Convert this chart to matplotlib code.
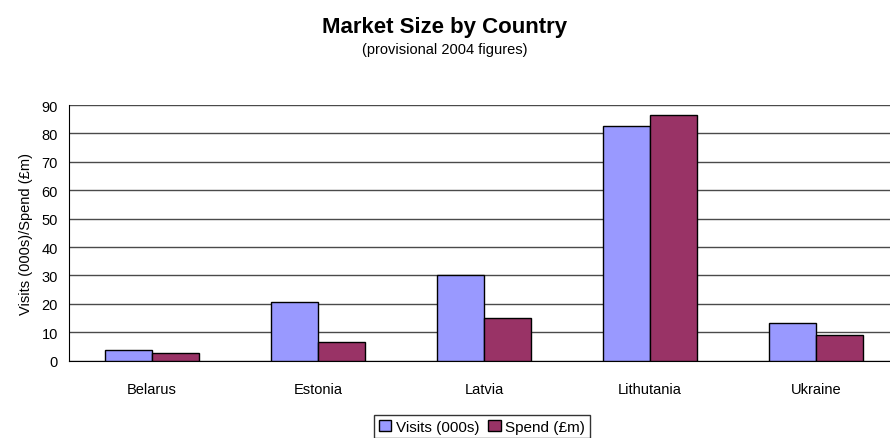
import numpy as np
import matplotlib.pyplot as plt
from matplotlib import font_manager

countries = ['Belarus', 'Estonia', 'Latvia', 'Lithutania', 'Ukraine']
visits = [3.8, 20.8, 30.0, 82.6, 13.1]
spend = [2.7, 6.7, 15.1, 86.5, 9.1]
yticks = [0, 10, 20, 30, 40, 50, 60, 70, 80, 90]

names = {f.name for f in font_manager.fontManager.ttflist}
family = ['Liberation Sans Narrow'] if 'Liberation Sans Narrow' in names else ['Liberation Sans']
plt.rcParams['font.family'] = family + ['DejaVu Sans']

fig = plt.figure(figsize=(8.9, 4.39), dpi=100)
ax = fig.add_axes([69 / 890, 77.3 / 439, 830 / 890, 255.7 / 439])

x = np.arange(len(countries))
w = 0.283
ax.bar(x - w / 2, visits, w, color='#9999FF', edgecolor='black', linewidth=1, label='Visits (000s)', zorder=3)
ax.bar(x + w / 2, spend, w, color='#993366', edgecolor='black', linewidth=1, label='Spend (£m)', zorder=3)

ax.set_xlim(-0.5, len(countries) - 0.5)
ax.set_ylim(0, 90)
ax.set_yticks(yticks)
ax.set_xticks(x)
ax.set_xticklabels(countries)
ax.tick_params(length=0, labelsize=10.5, pad=8)
ax.tick_params(axis='x', pad=15)
ax.yaxis.grid(True, color='#4a4a4a', linewidth=1, zorder=0)
for s in ['top', 'right']:
    ax.spines[s].set_visible(False)
ax.spines['left'].set_color('black')
ax.spines['bottom'].set_color('black')
ax.set_ylabel('Visits (000s)/Spend (£m)', fontsize=10.5, labelpad=6)

fig.text(0.5, 1 - 27 / 439, 'Market Size by Country', ha='center', va='center',
         fontsize=16, fontweight='bold')
fig.text(0.5, 1 - 50 / 439, '(provisional 2004 figures)', ha='center', va='center', fontsize=10.5)

leg = fig.legend(loc='upper center', bbox_to_anchor=(482 / 890, 1 - 416 / 439), ncol=2,
                 frameon=True, fancybox=False, edgecolor='black', fontsize=11,
                 handlelength=0.8, handleheight=0.8, handletextpad=0.3, columnspacing=0.6,
                 borderpad=0.3, borderaxespad=0)
leg.get_frame().set_linewidth(1)

fig.savefig('out.png', dpi=100)
